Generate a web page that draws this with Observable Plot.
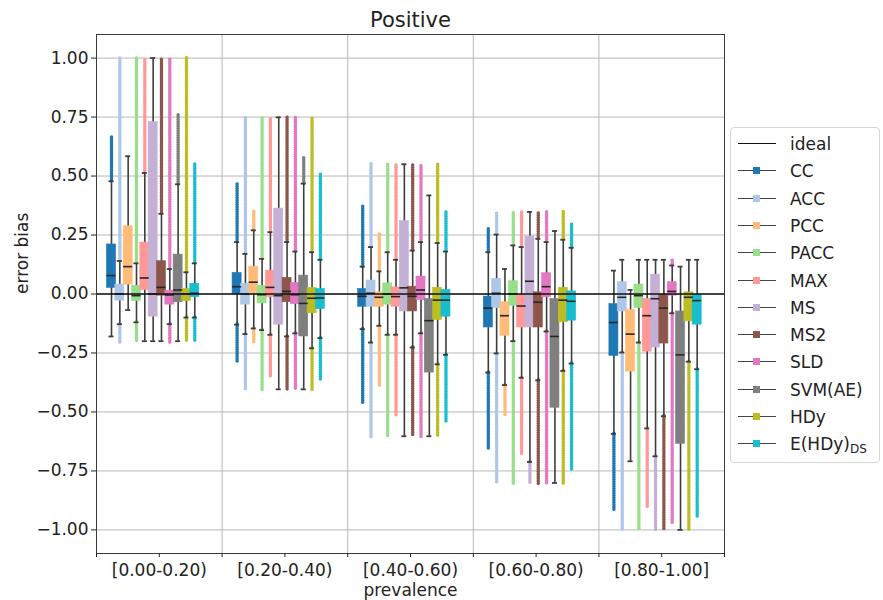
<!DOCTYPE html>
<html><head><meta charset="utf-8">
<script src="https://cdn.jsdelivr.net/npm/d3@7"></script>
<script src="https://cdn.jsdelivr.net/npm/@observablehq/plot@0.6"></script>
<style>
body{margin:0;background:#fff;font-family:"DejaVu Sans",sans-serif;}
#wrap{position:relative;width:883px;height:600px;overflow:hidden;}
#legend{position:absolute;left:730px;top:127px;width:150px;height:336px;border:1px solid #d6d6d6;border-radius:4px;box-sizing:border-box;background:#fff;}
.item{position:absolute;left:0;height:20px;width:148px;font-size:17px;color:#222;}
.item .ln{position:absolute;left:7px;top:9px;width:38px;height:0;border-top:1.6px solid #444;}
.item .sq{position:absolute;left:22px;top:6px;width:7px;height:7px;}
.item .lb{position:absolute;left:59px;top:0;line-height:20px;white-space:nowrap;}
.item sub{font-size:12px;vertical-align:-3px;}
</style></head><body><div id="wrap"><div id="chart"></div><div id="legend"></div></div>
<script>
const groups = ["[0.00-0.20)", "[0.20-0.40)", "[0.40-0.60)", "[0.60-0.80)", "[0.80-1.00]"];
const methods = ["CC", "ACC", "PCC", "PACC", "MAX", "MS", "MS2", "SLD", "SVM(AE)", "HDy", "E(HDy)DS"];
const colors = ["#1f77b4", "#aec7e8", "#ffbb78", "#98df8a", "#ff9896", "#c5b0d5", "#8c564b", "#e377c2", "#7f7f7f", "#bcbd22", "#17becf"];
const yTicks = [-1, -0.75, -0.5, -0.25, 0, 0.25, 0.5, 0.75, 1];

// per group (rows), per method (columns)
const outlierHi = [
  [0.67, 1.0, null, 1.0, 1.0, null, 1.0, 1.0, 0.763, 1.0, 0.556],
  [0.471, 0.749, 0.355, 0.749, 0.749, null, 0.749, 0.749, 0.58, 0.749, 0.508],
  [0.372, 0.55, 0.252, 0.55, 0.55, null, 0.55, 0.55, null, 0.55, 0.348],
  [0.28, 0.348, null, 0.348, 0.348, null, 0.348, 0.348, null, 0.348, 0.295],
  [null, null, null, null, null, null, null, 0.149, null, null, null]
];
const whiskerHi = [
  [0.478, 0.14, 0.584, 0.13, 0.513, 1.0, 0.34, 0.106, 0.465, 0.092, 0.13],
  [0.22, 0.17, 0.27, 0.149, 0.262, 0.749, 0.22, 0.18, 0.468, 0.177, 0.145],
  [0.116, 0.199, 0.096, 0.177, 0.145, 0.55, 0.184, 0.22, 0.418, 0.216, 0.18],
  [0.177, 0.252, 0.106, 0.206, 0.199, 0.348, 0.234, 0.22, 0.267, 0.23, 0.196],
  [0.099, 0.145, 0.017, 0.145, 0.145, 0.145, 0.145, 0.121, 0.116, 0.145, 0.145]
];
const q3 = [
  [0.21, 0.04, 0.287, 0.035, 0.218, 0.729, 0.139, 0.014, 0.167, 0.021, 0.043],
  [0.089, 0.043, 0.116, 0.035, 0.099, 0.362, 0.068, 0.047, 0.078, 0.026, 0.021],
  [0.021, 0.057, 0.007, 0.045, 0.028, 0.309, 0.031, 0.074, -0.021, 0.026, 0.017],
  [-0.011, 0.064, -0.035, 0.054, -0.003, 0.244, 0.007, 0.088, -0.021, 0.026, 0.011],
  [-0.043, 0.05, -0.068, 0.04, -0.021, 0.082, -0.003, 0.05, -0.074, 0.007, -0.003]
];
const median = [
  [0.078, 0.0, 0.116, -0.007, 0.068, 0.0, 0.028, -0.004, 0.017, 0.0, 0.003],
  [0.031, 0.0, 0.05, -0.003, 0.028, -0.007, 0.011, -0.003, -0.04, -0.018, -0.017],
  [-0.01, 0.003, -0.014, 0.0, -0.011, 0.026, -0.01, 0.017, -0.113, -0.026, -0.026],
  [-0.06, 0.003, -0.092, 0.0, -0.051, 0.054, -0.035, 0.031, -0.18, -0.026, -0.031],
  [-0.121, -0.014, -0.17, -0.007, -0.092, -0.02, -0.06, 0.011, -0.258, -0.014, -0.028]
];
const q1 = [
  [0.026, -0.028, 0.04, -0.03, 0.017, -0.096, -0.007, -0.045, -0.035, -0.03, -0.014],
  [0.0, -0.045, 0.0, -0.04, -0.014, -0.13, -0.035, -0.043, -0.18, -0.082, -0.064],
  [-0.054, -0.054, -0.054, -0.045, -0.054, -0.074, -0.074, -0.026, -0.333, -0.11, -0.096],
  [-0.142, -0.06, -0.177, -0.05, -0.142, -0.142, -0.142, -0.014, -0.482, -0.12, -0.113],
  [-0.262, -0.074, -0.329, -0.06, -0.244, -0.227, -0.21, -0.007, -0.635, -0.116, -0.13]
];
const whiskerLo = [
  [-0.18, -0.128, -0.068, -0.12, -0.2, -0.2, -0.2, -0.128, -0.2, -0.1, -0.1],
  [-0.13, -0.17, -0.146, -0.153, -0.173, -0.404, -0.18, -0.167, -0.404, -0.23, -0.187],
  [-0.149, -0.206, -0.135, -0.173, -0.173, -0.603, -0.227, -0.167, -0.603, -0.298, -0.258],
  [-0.333, -0.252, -0.386, -0.2, -0.355, -0.712, -0.366, -0.159, -0.801, -0.326, -0.295],
  [-0.593, -0.248, -0.709, -0.206, -0.57, -0.688, -0.518, -0.082, -1.0, -0.287, -0.319]
];
const outlierLo = [
  [null, -0.206, null, -0.206, null, null, null, -0.206, null, -0.206, -0.206],
  [-0.295, -0.408, -0.213, -0.408, -0.355, null, -0.408, -0.408, null, -0.408, -0.366],
  [-0.465, -0.607, -0.39, -0.607, -0.522, null, -0.607, -0.607, null, -0.607, -0.546],
  [-0.664, -0.806, -0.518, -0.806, -0.678, -0.806, -0.806, -0.806, null, -0.806, -0.749],
  [-0.915, -1.0, null, -1.0, -0.905, -1.0, -1.0, -0.972, null, -1.0, -0.943]
];

// layout of the dodged boxes (in x-scale units, one unit per prevalence bin)
const step = 0.0663, shift = -0.049, halfBox = 0.036, halfCap = 0.02;
const rows = [];
groups.forEach((g, gi) => methods.forEach((m, mi) => {
  rows.push({
    gi, mi, x: gi + (mi - 5) * step + shift, color: colors[mi],
    oHi: outlierHi[gi][mi], wHi: whiskerHi[gi][mi], q3: q3[gi][mi], med: median[gi][mi],
    q1: q1[gi][mi], wLo: whiskerLo[gi][mi], oLo: outlierLo[gi][mi]
  });
}));
const bounds = d3.range(groups.length + 1).map(i => i - 0.5);
const whiskerColor = "#3d3d3d";

const chart = Plot.plot({
  width: 883, height: 600,
  marginLeft: 96, marginRight: 159, marginTop: 34, marginBottom: 47,
  style: {fontFamily: "DejaVu Sans, sans-serif", fontSize: "17px", background: "white", color: "#222", overflow: "visible"},
  x: {domain: [-0.5, 4.5]},
  y: {domain: [-1.1, 1.1]},
  color: {type: "identity"},
  marks: [
    Plot.gridY(yTicks, {stroke: "#b0b0b0", strokeOpacity: 1, strokeWidth: 0.9}),
    Plot.gridX(bounds, {stroke: "#b0b0b0", strokeOpacity: 1, strokeWidth: 0.9}),
    Plot.ruleX(rows.filter(d => d.oHi != null), {x: "x", y1: "wHi", y2: "oHi", stroke: "color", strokeWidth: 3.6, strokeDasharray: "0,2.3", strokeLinecap: "round"}),
    Plot.ruleX(rows.filter(d => d.oLo != null), {x: "x", y1: "wLo", y2: "oLo", stroke: "color", strokeWidth: 3.6, strokeDasharray: "0,2.3", strokeLinecap: "round"}),
    Plot.ruleX(rows, {x: "x", y1: "wLo", y2: "wHi", stroke: whiskerColor, strokeWidth: 1.6}),
    Plot.ruleY(rows, {y: "wLo", x1: d => d.x - halfCap, x2: d => d.x + halfCap, stroke: whiskerColor, strokeWidth: 1.8}),
    Plot.ruleY(rows, {y: "wHi", x1: d => d.x - halfCap, x2: d => d.x + halfCap, stroke: whiskerColor, strokeWidth: 1.8}),
    Plot.rect(rows, {x1: d => d.x - halfBox, x2: d => d.x + halfBox, y1: "q1", y2: "q3", fill: "color", stroke: "color", strokeWidth: 0.6}),
    Plot.ruleY(rows, {y: "med", x1: d => d.x - halfBox, x2: d => d.x + halfBox, stroke: "#262626", strokeWidth: 1.6}),
    Plot.ruleY([0], {stroke: "#111", strokeWidth: 1.6}),
    Plot.frame({stroke: "#3a3a3a", strokeWidth: 1}),
    Plot.axisY(yTicks, {tickFormat: d3.format(".2f"), tickSize: 5, tickPadding: 3, label: null, fontSize: 17, color: "#222"}),
    Plot.axisX(bounds, {tickFormat: () => "", tickSize: 4, label: null}),
    Plot.axisX(d3.range(groups.length), {tickFormat: d => groups[d], tickSize: 4, tickPadding: 6, label: null, fontSize: 17, color: "#222"}),
    Plot.text(["Positive"], {frameAnchor: "top", lineAnchor: "middle", dy: -14, fontSize: 21, fill: "#222"}),
    Plot.text(["prevalence"], {frameAnchor: "bottom", lineAnchor: "middle", dy: 37, fontSize: 17, fill: "#222"}),
    Plot.text(["error bias"], {frameAnchor: "left", dx: -74, rotate: -90, fontSize: 17, fill: "#222"})
  ]
});
document.getElementById("chart").appendChild(chart);

// legend
const legend = document.getElementById("legend");
const entries = [{name: "ideal", color: null}].concat(methods.map((m, i) => ({name: m, color: colors[i]})));
entries.forEach((e, i) => {
  const div = document.createElement("div");
  div.className = "item";
  div.style.top = (6 + i * 27.3) + "px";
  const ln = document.createElement("div"); ln.className = "ln";
  if (!e.color) ln.style.borderTopColor = "#111";
  div.appendChild(ln);
  if (e.color) { const sq = document.createElement("div"); sq.className = "sq"; sq.style.background = e.color; div.appendChild(sq); }
  const lb = document.createElement("div"); lb.className = "lb";
  if (e.name === "E(HDy)DS") { lb.innerHTML = "E(HDy)<sub>DS</sub>"; } else { lb.textContent = e.name; }
  div.appendChild(lb);
  legend.appendChild(div);
});
</script>
</body></html>
